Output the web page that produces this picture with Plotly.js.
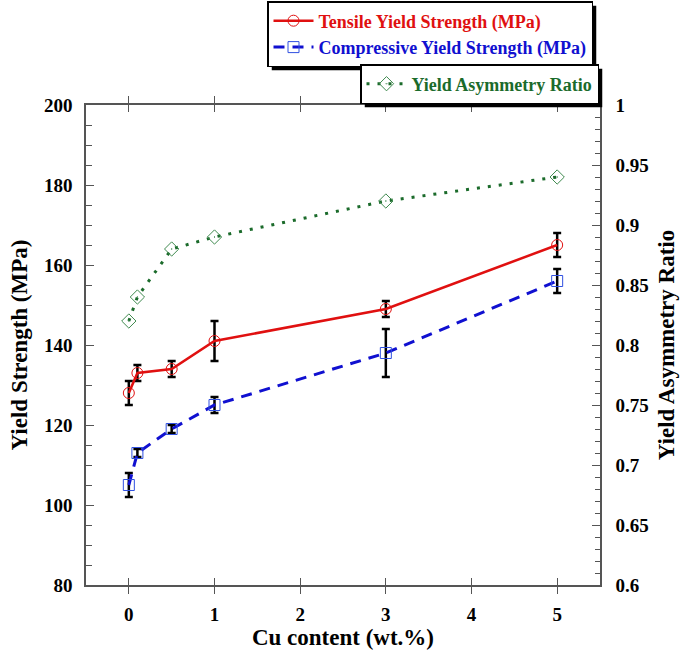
<!DOCTYPE html>
<html>
<head>
<meta charset="utf-8">
<script src="https://cdn.plot.ly/plotly-3.0.1.min.js"></script>
<style>
  html, body { margin: 0; padding: 0; background: #fff; }
  #chart { width: 685px; height: 654px; }
</style>
</head>
<body>
<div id="chart"></div>
<script>
// Cu content (wt.%)
var cuContent = [0, 0.1, 0.5, 1, 3, 5];
// yield strengths (MPa) and their error bars
var tensile = [128, 133, 134, 141, 149, 165];
var tensileErr = [3, 2, 2, 5, 2, 3];
var compressive = [105, 113, 119, 125, 138, 156];
var compressiveErr = [3, 1, 1, 2, 6, 3];
// compressive / tensile ratio
var asymmetry = [0.82, 0.84, 0.88, 0.89, 0.92, 0.94];

var serif = 'Liberation Serif';
var red = '#e01010';
var blue = '#1010d0';
var green = '#1b6b2b';

var tensileTrace = {
    x: cuContent,
    y: tensile,
    error_y: { type: 'data', array: tensileErr, color: '#000', thickness: 2.5, width: 4 },
    mode: 'lines+markers',
    name: '<span style="color:' + red + '">Tensile Yield Strength (MPa)</span>',
    line: { color: red, width: 2.5 },
    marker: { symbol: 'circle-open', size: 11, color: red, line: { width: 1 } },
    legend: 'legend'
};

var compressiveTrace = {
    x: cuContent,
    y: compressive,
    error_y: { type: 'data', array: compressiveErr, color: '#000', thickness: 2.5, width: 4 },
    mode: 'lines+markers',
    name: '<span style="color:' + blue + '">Compressive Yield Strength (MPa)</span>',
    line: { color: blue, width: 3, dash: '11px,8px' },
    marker: { symbol: 'square-open', size: 11, color: '#3050e0', line: { width: 1 } },
    legend: 'legend'
};

var ratioTrace = {
    x: cuContent,
    y: asymmetry,
    yaxis: 'y2',
    mode: 'lines+markers',
    name: '<span style="color:' + green + '">Yield Asymmetry Ratio</span>',
    line: { color: green, width: 3, dash: '3px,8px' },
    marker: { symbol: 'diamond-open-dot', size: 11, color: '#3f8a4f', line: { width: 1 } },
    legend: 'legend2'
};

// plot area in pixels: left 86, right 600, top 105, bottom 585
function px(xp) { return (xp - 86) / 514; }
function py(yp) { return (585 - yp) / 480; }

function tickFont() { return { family: serif, size: 19, color: '#000', weight: 'bold' }; }
function titleFont() { return { family: serif, size: 23, color: '#000', weight: 'bold' }; }

var layout = {
    width: 685,
    height: 654,
    margin: { l: 86, r: 85, t: 105, b: 69, autoexpand: false },
    font: { family: serif, color: '#000' },
    paper_bgcolor: '#fff',
    plot_bgcolor: '#fff',
    showlegend: true,
    xaxis: {
        range: [-0.5, 5.5],
        dtick: 1,
        tick0: 0,
        showgrid: false,
        zeroline: false,
        showline: true,
        linecolor: '#555',
        linewidth: 1.5,
        mirror: 'allticks',
        ticks: 'inside',
        ticklen: 7,
        tickcolor: '#555',
        tickfont: tickFont(),
        ticklabelstandoff: 11,
        title: { text: 'Cu content (wt.%)', font: titleFont(), standoff: 4 }
    },
    yaxis: {
        range: [80, 200],
        dtick: 20,
        showgrid: false,
        zeroline: false,
        showline: true,
        linecolor: '#555',
        linewidth: 1.5,
        ticks: 'inside',
        ticklen: 8,
        tickcolor: '#555',
        minor: { dtick: 5, ticks: 'inside', ticklen: 6, tickcolor: '#555' },
        tickfont: tickFont(),
        ticklabelstandoff: 8,
        title: { text: 'Yield Strength (MPa)', font: titleFont(), standoff: 10 }
    },
    yaxis2: {
        range: [0.6, 1],
        dtick: 0.05,
        overlaying: 'y',
        side: 'right',
        showgrid: false,
        zeroline: false,
        showline: true,
        linecolor: '#555',
        linewidth: 1.5,
        ticks: 'inside',
        ticklen: 8,
        tickcolor: '#555',
        minor: { dtick: 0.01, ticks: 'inside', ticklen: 5, tickcolor: '#555' },
        tickfont: tickFont(),
        ticklabelstandoff: 10,
        title: { text: 'Yield Asymmetry Ratio', font: titleFont(), standoff: 10 }
    },
    legend: {
        x: px(593), y: py(1),
        xanchor: 'right', yanchor: 'top',
        bgcolor: '#fff',
        bordercolor: '#000',
        borderwidth: 1.5,
        font: { family: serif, size: 18, weight: 'bold' },
        itemwidth: 40
    },
    legend2: {
        x: px(599), y: py(64),
        xanchor: 'right', yanchor: 'top',
        bgcolor: '#fff',
        bordercolor: '#000',
        borderwidth: 1.5,
        font: { family: serif, size: 18, weight: 'bold' },
        itemwidth: 40
    }
};

Plotly.newPlot('chart', [tensileTrace, compressiveTrace, ratioTrace], layout, { displayModeBar: false, showLink: false })
    .then(function (gd) {
        // drop shadows behind the legend boxes, sized from the drawn legends
        var shadows = [];
        ['.legend', '.legend2'].forEach(function (sel) {
            var bg = gd.querySelector('g' + sel + ' rect.bg');
            if (!bg) { return; }
            var box = bg.getBoundingClientRect();
            var off = 4;
            shadows.push({
                type: 'rect', xref: 'paper', yref: 'paper', layer: 'above',
                x0: px(box.left + off), x1: px(box.right + off),
                y0: py(box.bottom + off), y1: py(box.top + off),
                fillcolor: '#000', line: { width: 0 }
            });
        });
        return Plotly.relayout(gd, { shapes: shadows });
    });
</script>
</body>
</html>
